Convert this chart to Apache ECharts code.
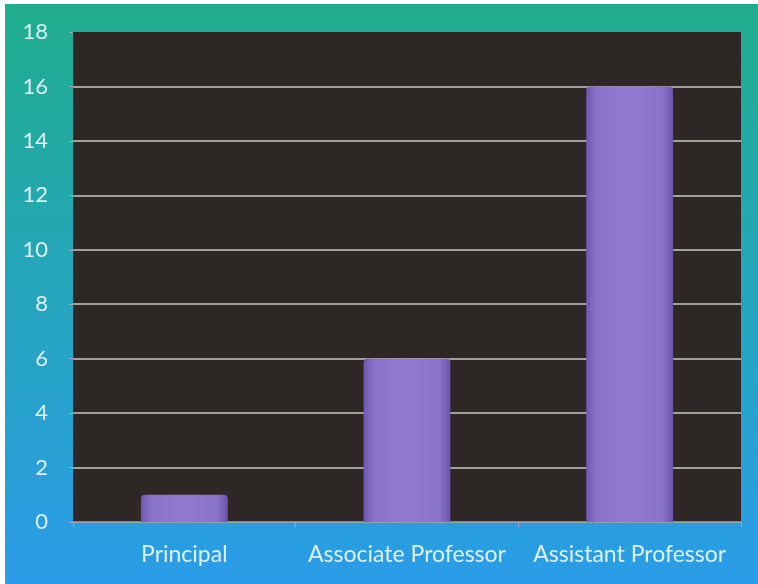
<!DOCTYPE html>
<html>
<head>
<meta charset="utf-8">
<script src="https://cdn.jsdelivr.net/npm/echarts@6/dist/echarts.min.js"></script>
<style>
html,body{margin:0;padding:0;background:#ffffff;}
#c{position:absolute;left:0;top:0;width:758px;height:584px;}
</style>
</head>
<body>
<div id="c"></div>
<script>
const categories = ['Principal', 'Associate Professor', 'Assistant Professor'];
const values = [1, 6, 16];
const yTicks = [0, 2, 4, 6, 8, 10, 12, 14, 16, 18];

const chart = echarts.init(document.getElementById('c'), null, {renderer: 'canvas'});
const labelColor = '#dcf1f6';
chart.setOption({
  backgroundColor: {
    type: 'linear', x: 0, y: 0, x2: 0, y2: 1,
    colorStops: [
      {offset: 0, color: '#1fae8c'},
      {offset: 0.45, color: '#26a6b8'},
      {offset: 1, color: '#2a9ce8'}
    ]
  },
  animation: false,
  graphic: [
    {type: 'rect', left: 0, top: 0, shape: {width: 758, height: 4}, style: {fill: '#ffffff'}, z: 100},
    {type: 'rect', left: 0, top: 0, shape: {width: 5, height: 584}, style: {fill: '#ffffff'}, z: 100}
  ],
  grid: {
    left: 73, right: 17, top: 32, bottom: 62,
    show: true, backgroundColor: '#2d2825', borderWidth: 0
  },
  xAxis: {
    type: 'category',
    data: categories,
    axisLine: {show: true, lineStyle: {color: '#a9a9a4', width: 1.5}},
    axisTick: {show: true, interval: 0, length: 5, lineStyle: {color: '#a9a9a4'}},
    axisLabel: {color: labelColor, fontSize: 23, fontFamily: 'Lato', margin: 21, interval: 0, hideOverlap: false}
  },
  yAxis: {
    type: 'value',
    min: 0, max: 18, interval: 2,
    axisLine: {show: false},
    axisTick: {show: true, length: 4, lineStyle: {color: '#a9a9a4'}},
    axisLabel: {color: labelColor, fontSize: 22, fontFamily: 'Lato', margin: 25},
    splitLine: {show: true, showMinLine: false, showMaxLine: false, lineStyle: {color: '#c9c7bd', width: 1.5}}
  },
  series: [{
    type: 'bar',
    data: values,
    barWidth: '39%',
    itemStyle: {
      color: {
        type: 'linear', x: 0, y: 0, x2: 1, y2: 0,
        colorStops: [
          {offset: 0, color: '#6f58b0'},
          {offset: 0.12, color: '#8a72ca'},
          {offset: 0.5, color: '#927ad2'},
          {offset: 0.88, color: '#8a72ca'},
          {offset: 1, color: '#6a54ab'}
        ]
      },
      borderRadius: [4, 4, 0, 0]
    }
  }]
});
</script>
</body>
</html>
